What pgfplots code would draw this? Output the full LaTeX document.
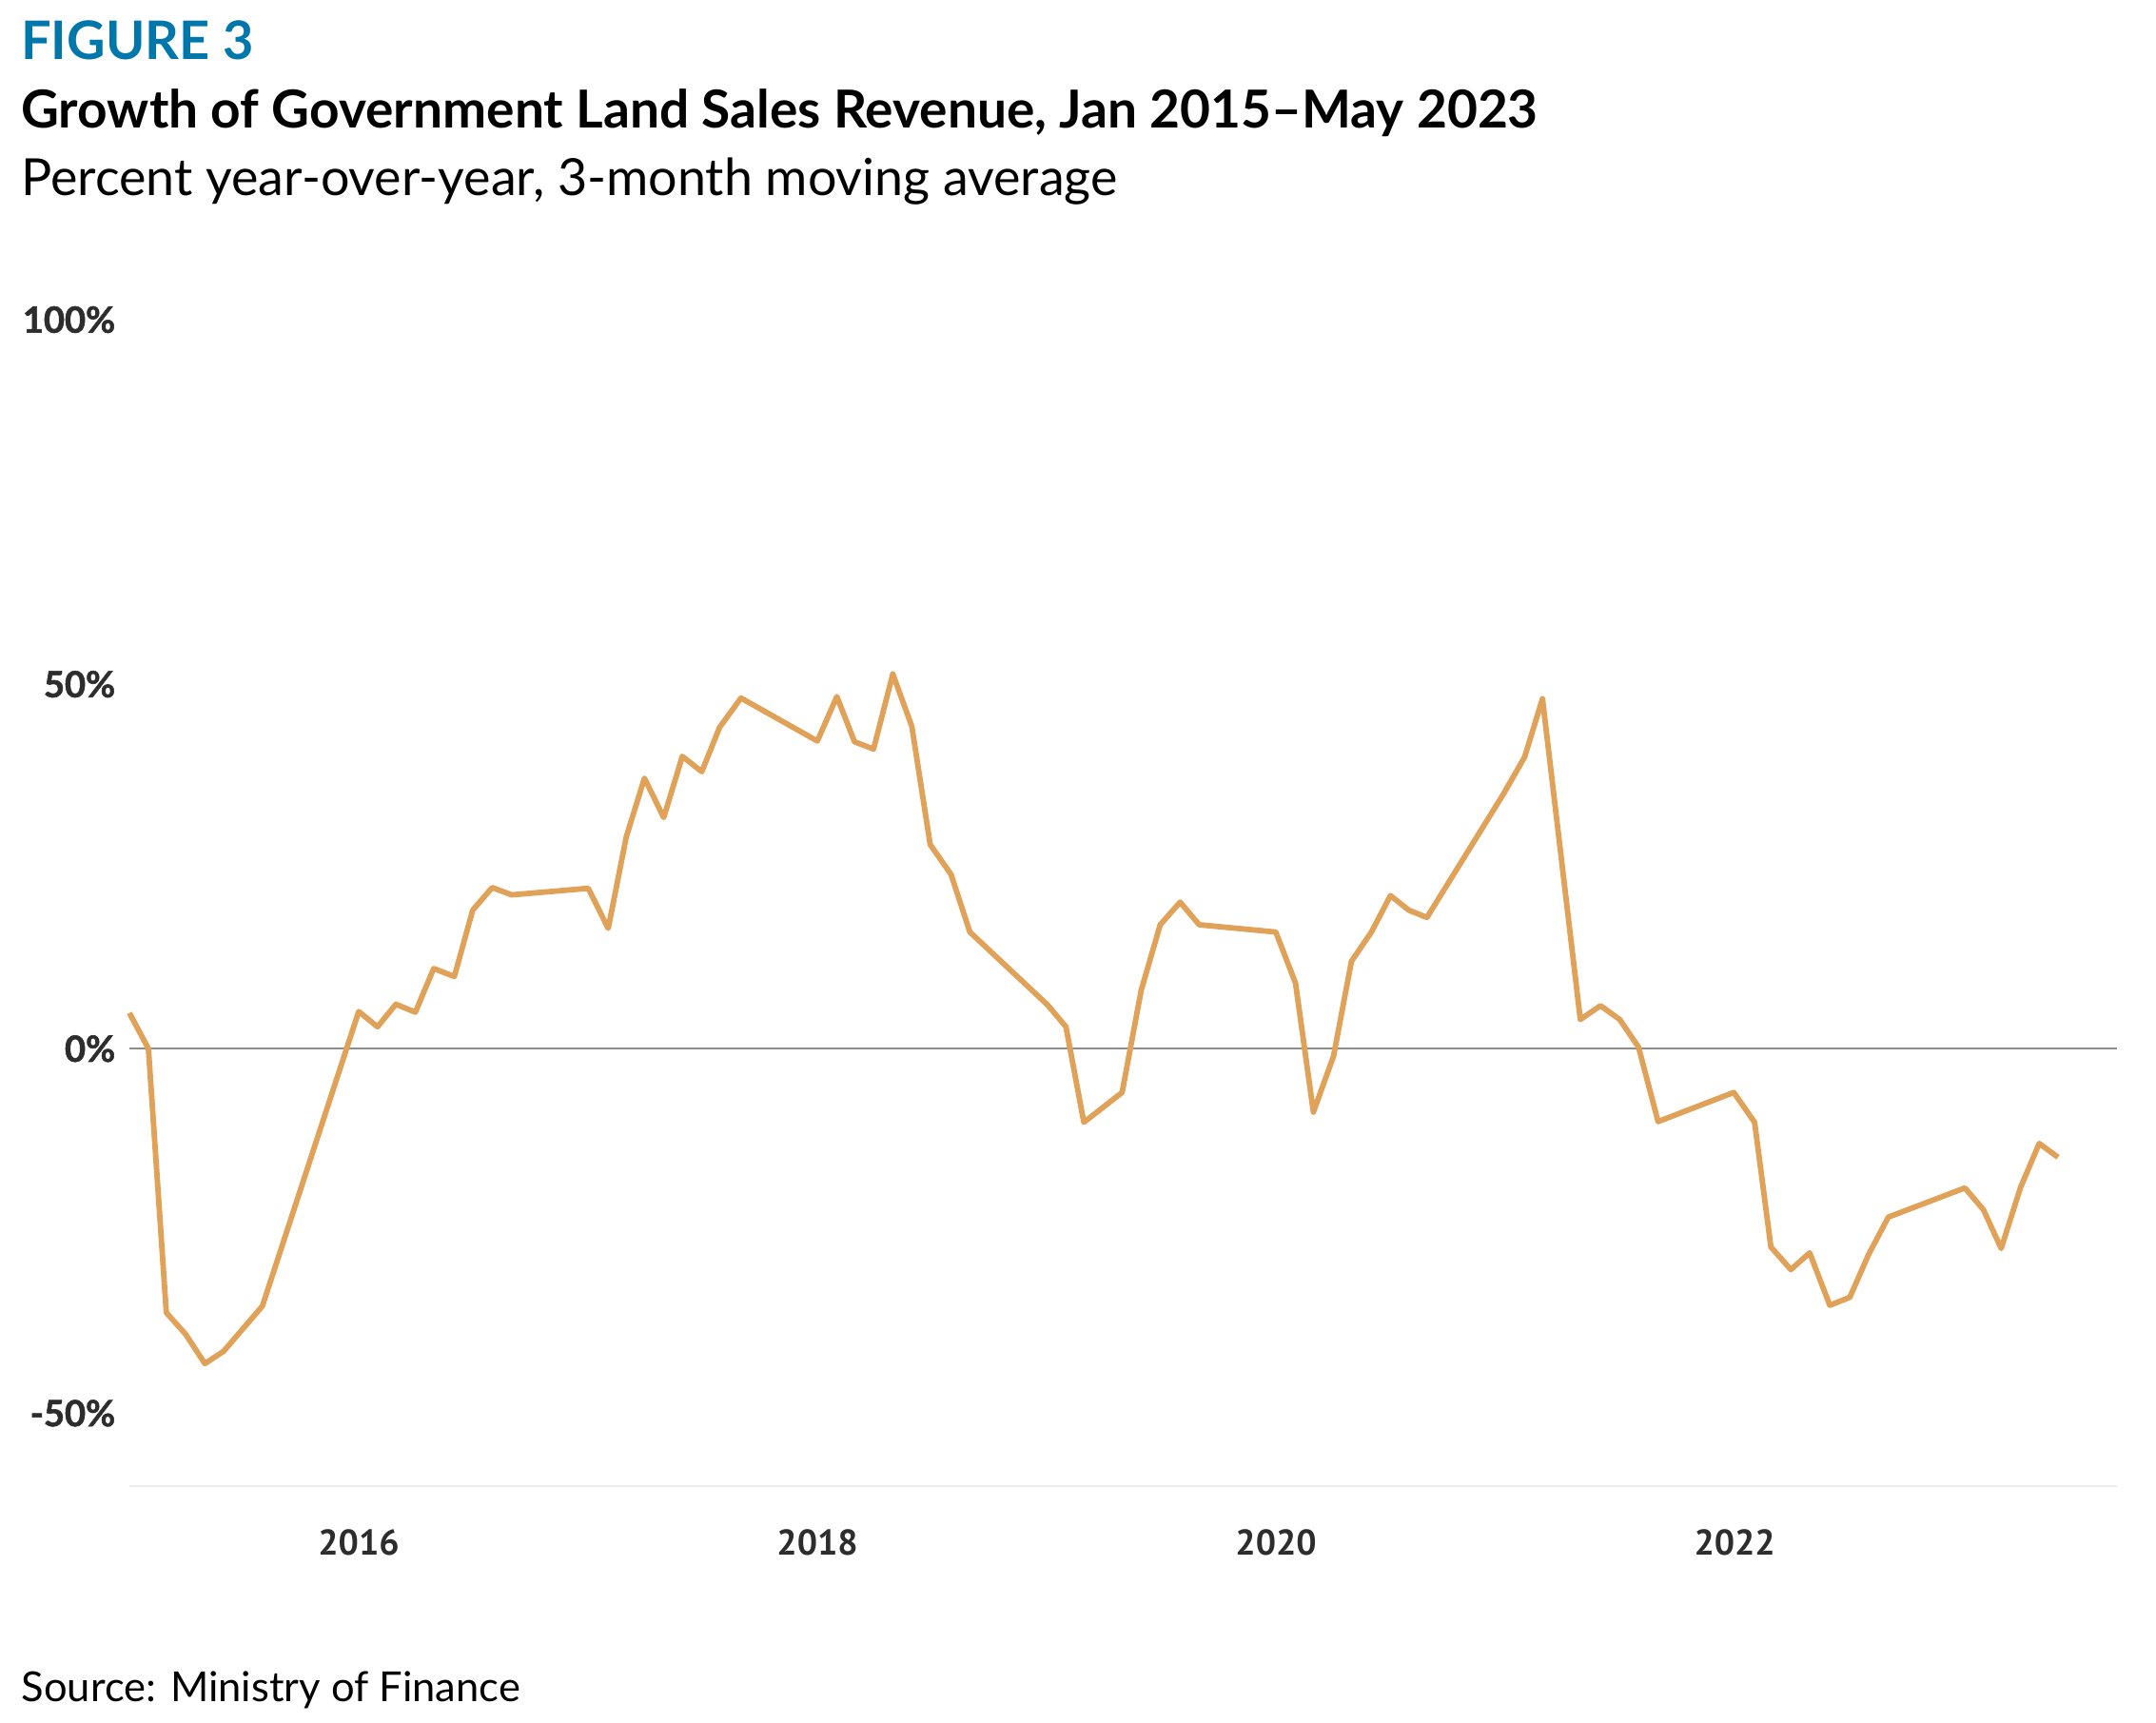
\documentclass[border=0pt]{standalone}
\usepackage{fontspec}
\setmainfont{Lato}
\newfontfamily\xtfont{PT Sans}
\newfontfamily\ytfont[FakeBold=1.5]{Lato}
\usepackage{pgfplots}
\pgfplotsset{compat=1.18}
\definecolor{lineorange}{RGB}{224,162,88}
\definecolor{figblue}{RGB}{0,119,170}
\definecolor{ticktext}{RGB}{45,45,45}
\begin{document}
\begin{tikzpicture}
\useasboundingbox (0,0) rectangle (566.5pt,452.5pt);
\node[anchor=base west, inner sep=0pt, text=figblue] at (5.4pt,436.9pt) {\resizebox{61pt}{!}{\bfseries FIGURE 3}};
\node[anchor=base west, inner sep=0pt] at (5.4pt,418.75pt) {\resizebox{398.5pt}{!}{\bfseries Growth of Government Land Sales Revenue, Jan 2015--May 2023}};
\node[anchor=base west, inner sep=0pt] at (5.4pt,401.1pt) {\resizebox{288pt}{!}{Percent year-over-year, 3-month moving average}};
\node[anchor=base west, inner sep=0pt] at (5.5pt,5.5pt) {\resizebox{131pt}{!}{Source: Ministry of Finance}};
\begin{axis}[
  at={(34pt,62pt)}, anchor=south west,
  scale only axis, width=522.3pt, height=306.5pt,
  xmin=2015, xmax=2023.668, ymin=-60, ymax=100,
  axis line style={draw=none},
  major tick length=0pt,
  xtick={2016,2018,2020,2022},
  xticklabels={2016,2018,2020,2022},
  ytick={-50,0,50,100},
  yticklabels={-50\%,0\%,50\%,100\%},
  yticklabel style={font=\ytfont\bfseries\fontsize{9.5}{10}\selectfont, text=ticktext, anchor=east, inner sep=0pt, xshift=-3.5pt},
  xticklabel style={font=\xtfont\bfseries\fontsize{9.4}{10}\selectfont, text=ticktext, anchor=base, inner sep=0pt, yshift=-18pt},
  clip=false,
]
\draw[color={rgb,255:red,236;green,236;blue,236}, line width=0.5pt] (axis cs:2015,-60) -- (axis cs:2023.668,-60);
\draw[color={rgb,255:red,140;green,140;blue,140}, line width=0.55pt] (axis cs:2015,0) -- (axis cs:2023.668,0);
\addplot[lineorange, line width=1.45pt, mark=none, line join=round] coordinates {
(2015.000,4.9) (2015.083,0) (2015.161,-36.2) (2015.246,-39.2) (2015.329,-43.2) (2015.411,-41.5)
(2015.580,-35.3) (2016.000,5.1) (2016.082,3.0) (2016.162,6.1) (2016.247,5.0) (2016.327,11.0)
(2016.417,9.9) (2016.497,19.0) (2016.582,22.1) (2016.667,21.1) (2017.001,22.0) (2017.088,16.5)
(2017.167,29.1) (2017.246,37.1) (2017.330,31.7) (2017.411,40.1) (2017.496,38.0) (2017.574,44.1)
(2017.667,48.1) (2018.000,42.2) (2018.085,48.3) (2018.162,42.1) (2018.245,41.1) (2018.329,51.4)
(2018.412,44.2) (2018.492,28.0) (2018.583,23.9) (2018.665,16.0) (2019.004,6.0) (2019.084,3.0)
(2019.162,-10.1) (2019.329,-6.0) (2019.412,8.0) (2019.495,17.0) (2019.582,20.1) (2019.665,17.0)
(2019.999,16.0) (2020.085,9.0) (2020.163,-8.7) (2020.251,-1.0) (2020.329,12.0) (2020.416,16.0)
(2020.499,21.0) (2020.579,19.0) (2020.658,18.0) (2020.993,35.0) (2021.084,40.0) (2021.162,48.0)
(2021.327,4.0) (2021.415,5.9) (2021.499,4.0) (2021.581,0.2) (2021.666,-10.0) (2021.996,-6.0)
(2022.087,-10.1) (2022.158,-27.2) (2022.245,-30.3) (2022.327,-28.0) (2022.415,-35.2) (2022.502,-34.1)
(2022.583,-28.3) (2022.670,-23.1) (2023.004,-19.1) (2023.085,-22.1) (2023.162,-27.4) (2023.247,-19.0)
(2023.328,-13.0) (2023.410,-14.9)
};
\end{axis}
\end{tikzpicture}
\end{document}
